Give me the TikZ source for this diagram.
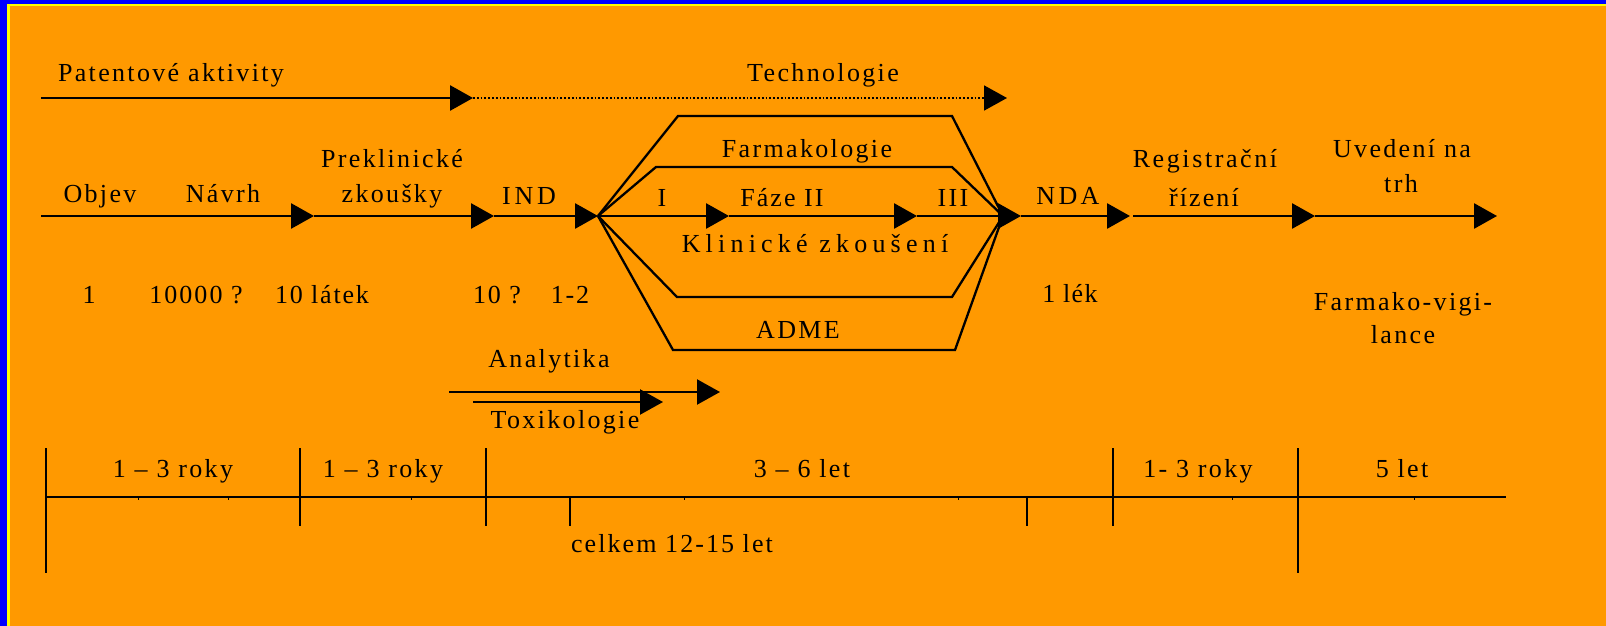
\documentclass[tikz,border=0pt]{standalone}
\usepackage{fontspec}
\setmainfont{Liberation Serif}[LetterSpace=9]
\usepackage{tikz}
\usetikzlibrary{arrows.meta}
\definecolor{slideorange}{HTML}{FF9900}
\definecolor{slideblue}{HTML}{0000FF}
\definecolor{slideyellow}{HTML}{FFFF00}

\begin{document}
\begin{tikzpicture}[
x=0.5pt, y=-0.5pt,
% Style for the texts (placed on their baseline)
text style/.style={
anchor=base,
inner sep=0pt,
font=\fontsize{13}{15}\selectfont
},
% Wider letter spacing
wide style/.style={
text style,
font=\fontsize{13}{15}\selectfont\addfontfeature{LetterSpace=#1}
},
% Style for the arrows
arrow style/.style={
line width=1.4pt,
-{Triangle[length=11.5pt,width=12.5pt]}
},
% Style for the branch lines
branch style/.style={
line width=1.15pt
},
tick style/.style={
line width=1.1pt
}
]

% Background and frame
\useasboundingbox (0,0) rectangle (1606,626);
\fill[slideorange] (0,0) rectangle (1606,626);
\fill[slideblue] (0,0) rectangle (7,626);
\fill[slideblue] (0,0) rectangle (1606,4);
\fill[slideyellow] (7,4) rectangle (9.5,626);
\fill[slideyellow] (7,4) rectangle (1606,6);

% TOP: patents and technology
\coordinate (p0) at (41,98);
\coordinate (p1) at (473,98);
\coordinate (p2) at (1007,98);
\draw[arrow style] (p0) -- (p1);
\draw[arrow style, line width=0.9pt, densely dotted] (p1) -- (p2);
\node[text style] (patent) at (171,82) {Patentové aktivity};
\node[text style] (tech) at (823,82) {Technologie};

% MAIN LINE: points along the process
\coordinate (m0) at (41,216);
\coordinate (m1) at (314,216);
\coordinate (m2) at (494,216);
\coordinate (m3) at (598,216);
\coordinate (m4) at (729,216);
\coordinate (m5) at (917,216);
\coordinate (m6) at (1021,216);
\coordinate (m7) at (1130,216);
\coordinate (m8) at (1133,216);
\coordinate (m9) at (1315,216);
\coordinate (m10) at (1497,216);
\coordinate (conv) at (1003,216);

\draw[arrow style] (m0) -- (m1);
\draw[arrow style] (m1) -- (m2);
\draw[arrow style] (m2) -- (m3);
\draw[arrow style] (m3) -- (m4);
\draw[arrow style] (m4) -- (m5);
\draw[arrow style] (m5) -- (m6);
\draw[arrow style] (m6) -- (m7);
\draw[arrow style] (m8) -- (m9);
\draw[arrow style] (m9) -- (m10);

% Branches running beside the clinical trials
\draw[branch style] (m3) -- (678,116) -- (952,116) -- (conv);
\draw[branch style] (m3) -- (656,167) -- (952,167) -- (conv);
\draw[branch style] (m3) -- (677,297) -- (952,297) -- (conv);
\draw[branch style] (m3) -- (673,350) -- (955,350) -- (conv);

% Labels of the main line
\node[text style] (objev) at (100,202) {Objev};
\node[text style] (navrh) at (223,202) {Návrh};
\node[text style] (prekl) at (392,168) {Preklinické};
\node[text style] (zkousky) at (392,202) {zkoušky};
\node[wide style=15] (ind) at (529,205) {IND};
\node[text style] (farm) at (807,157) {Farmakologie};
\node[text style] (faze1) at (662,206) {I};
\node[wide style=8] (faze2) at (782,206) {Fáze II};
\node[text style] (faze3) at (953,206) {III};
\node[wide style=20] (klin) at (815,252) {Klinické zkoušení};
\node[text style] (adme) at (798,338) {ADME};
\node[wide style=13] (nda) at (1068,205) {NDA};
\node[wide style=10] (reg) at (1205,168) {Registrační};
\node[wide style=8] (rizeni) at (1204,206) {řízení};
\node[text style] (uved) at (1402,157) {Uvedení na};
\node[text style] (trh) at (1401,192) {trh};

% Numbers of substances
\node[wide style=5] (n1) at (89,303) {1};
\node[wide style=8] (n2) at (196,303) {10000 ?};
\node[wide style=7] (n3) at (322,303) {10 látek};
\node[wide style=7] (n4) at (497,303) {10 ?};
\node[wide style=7] (n5) at (570,303) {1-2};
\node[wide style=5] (lek) at (1070,302) {1 lék};
\node[text style] (vig) at (1403,310) {Farmako-vigi-};
\node[text style] (lance) at (1403,343) {lance};

% Analytics and toxicology
\coordinate (a0) at (449,392);
\coordinate (a1) at (720,392);
\coordinate (b0) at (473,402);
\coordinate (b1) at (663,402);
\draw[arrow style, line width=1.1pt] (a0) -- (a1);
\draw[arrow style, line width=1.1pt] (b0) -- (b1);
\node[text style] (anal) at (549,367) {Analytika};
\node[text style] (tox) at (565,428) {Toxikologie};

% TIME LINE
\coordinate (t0) at (46,497);
\coordinate (t1) at (1506,497);
\draw[line width=1.4pt] (t0) -- (t1);
\foreach \x in {46,1298} {
\draw[tick style] (\x,448) -- (\x,573);
}
\foreach \x in {300,486,1113} {
\draw[tick style] (\x,448) -- (\x,526);
}
\foreach \x in {570,1027} {
\draw[tick style] (\x,497) -- (\x,526);
}
\foreach \x in {138,228,411,684,958,1232,1414} {
\draw[line width=0.5pt] (\x,497) -- (\x,500);
}
\node[wide style=9] (y1) at (173,477) {1 – 3 roky};
\node[wide style=9] (y2) at (383,477) {1 – 3 roky};
\node[wide style=9] (y3) at (802,477) {3 – 6 let};
\node[wide style=9] (y4) at (1198,477) {1- 3 roky};
\node[wide style=9] (y5) at (1402,477) {5 let};
\node[wide style=8] (total) at (672,552) {celkem 12-15 let};

\end{tikzpicture}
\end{document}
